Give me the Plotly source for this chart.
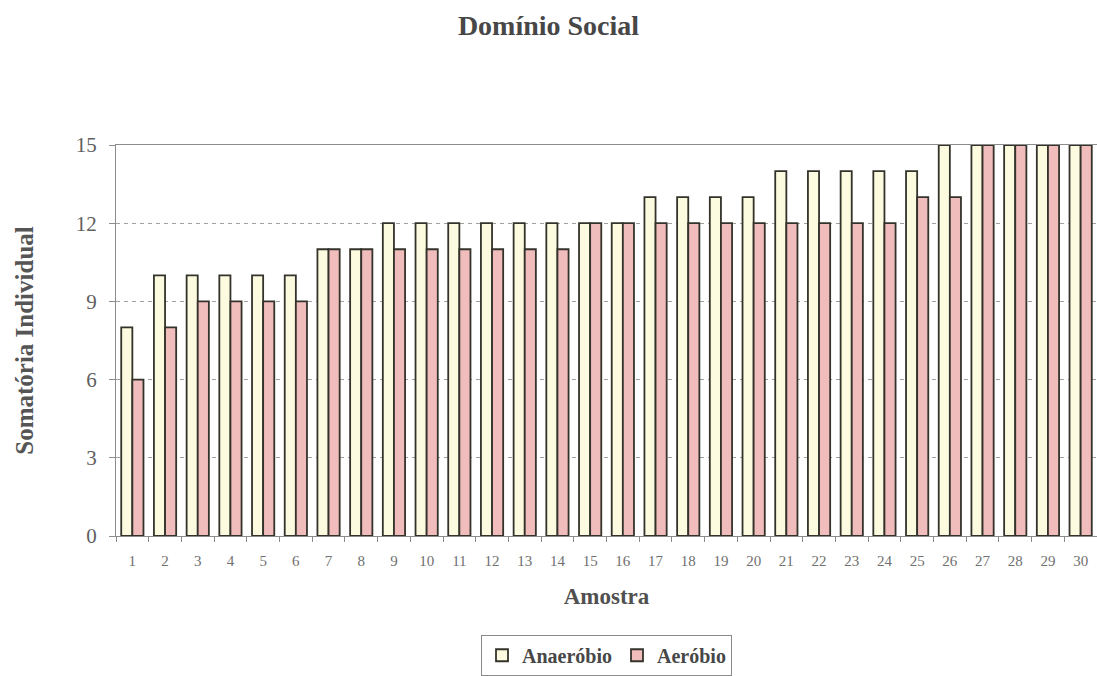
import plotly.graph_objects as go

# Sample numbers and the individual sums for each group
amostras = [str(i) for i in range(1, 31)]
anaerobio = [8, 10, 10, 10, 10, 10, 11, 11, 12, 12, 12, 12, 12, 12, 12, 12,
             13, 13, 13, 13, 14, 14, 14, 14, 14, 15, 15, 15, 15, 15]
aerobio = [6, 8, 9, 9, 9, 9, 11, 11, 11, 11, 11, 11, 11, 11, 12, 12,
           12, 12, 12, 12, 12, 12, 12, 12, 13, 13, 15, 15, 15, 15]
y_ticks = [0, 3, 6, 9, 12, 15]

serif = "Liberation Serif, Times New Roman, serif"
outline = dict(color="#34332b", width=1.8)
axis_grey = "#8c8c8c"

fig = go.Figure()
fig.add_trace(go.Bar(x=amostras, y=anaerobio, name="<b>Anaeróbio</b>",
                     marker=dict(color="#fdfbdf", line=outline)))
fig.add_trace(go.Bar(x=amostras, y=aerobio, name="<b>Aeróbio</b>",
                     marker=dict(color="#f1bcbc", line=outline)))

fig.update_layout(
    width=1097, height=676,
    margin=dict(l=116, r=0, t=145, b=140),
    paper_bgcolor="white", plot_bgcolor="white",
    barmode="group", bargap=0.32, bargroupgap=0,
    font=dict(family=serif, color="#555555"),
    title=dict(text="<b>Domínio Social</b>", x=0.5, xref="container",
               xanchor="center", y=1 - 25 / 676, yanchor="middle",
               font=dict(family=serif, size=28, color="#474747")),
    legend=dict(orientation="h", x=0.5, xanchor="center", y=-0.305,
                yanchor="middle", bordercolor="#8a8a8a", borderwidth=1,
                font=dict(family=serif, size=20, color="#474747"),
                itemwidth=30, tracegroupgap=0),
    showlegend=True,
)

fig.update_xaxes(
    type="category",
    showline=True, linecolor=axis_grey, linewidth=1.3, mirror=True,
    ticks="outside", tickson="boundaries", ticklen=5, tickcolor=axis_grey,
    ticklabelstandoff=11,
    tickfont=dict(family=serif, size=15, color="#707070"),
    showgrid=False,
    title=dict(text="<b>Amostra</b>", standoff=19,
               font=dict(family=serif, size=23, color="#505050")),
)

fig.update_yaxes(
    range=[0, 15], tickvals=y_ticks,
    showline=True, linecolor=axis_grey, linewidth=1.3,
    ticks="outside", ticklen=6, tickcolor=axis_grey,
    ticklabelstandoff=8,
    tickfont=dict(family=serif, size=21, color="#606060"),
    showgrid=True, gridcolor="#a0a0a0", gridwidth=1, griddash="4px,4px",
    zeroline=False,
    title=dict(text="<b>Somatória Individual</b>", standoff=34,
               font=dict(family=serif, size=25, color="#555555")),
)

fig.write_html("out.html")
